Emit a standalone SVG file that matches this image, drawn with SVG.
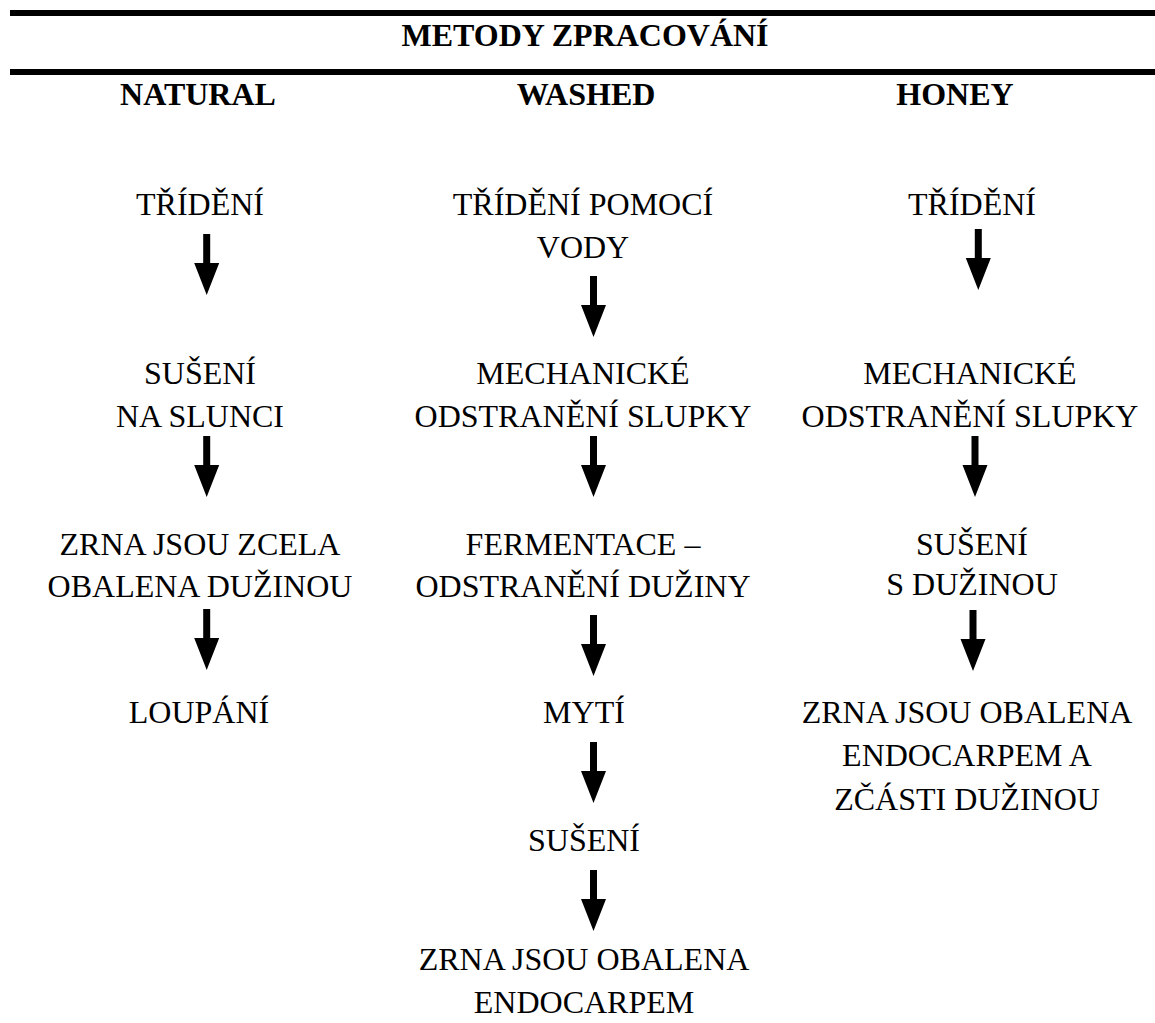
<svg xmlns="http://www.w3.org/2000/svg" xmlns:xlink="http://www.w3.org/1999/xlink" width="1155" height="1023" viewBox="0 0 1155 1023">
<style>
text{font-family:'Liberation Serif','DejaVu Serif',serif;font-size:32px;fill:#000;text-anchor:middle}
.h{font-weight:bold}
.rule{fill:#000}
</style>
<defs>
<path id="arr" d="M-3.5,0 H3.5 V29 H12.5 L0,61 L-12.5,29 H-3.5 Z" fill="#000"/>
</defs>
<rect width="1155" height="1023" fill="#fff"/>
<g id="header">
<rect class="rule" x="10" y="10" width="1145" height="6"/>
<text class="h" x="585" y="46">METODY ZPRACOVÁNÍ</text>
<rect class="rule" x="10" y="69" width="1145" height="6"/>
<text class="h" x="198" y="105">NATURAL</text>
<text class="h" x="586" y="105">WASHED</text>
<text class="h" x="955" y="105">HONEY</text>
</g>
<g id="n1-1"><text x="200" y="215">TŘÍDĚNÍ</text></g>
<g id="n1-2"><text x="200" y="384">SUŠENÍ</text><text x="200" y="427">NA SLUNCI</text></g>
<g id="n1-3"><text x="200" y="555">ZRNA JSOU ZCELA</text><text x="200" y="597">OBALENA DUŽINOU</text></g>
<g id="n1-4"><text x="199" y="723">LOUPÁNÍ</text></g>
<g id="n2-1"><text x="583" y="215">TŘÍDĚNÍ POMOCÍ</text><text x="583" y="258">VODY</text></g>
<g id="n2-2"><text x="583" y="384">MECHANICKÉ</text><text x="583" y="427">ODSTRANĚNÍ SLUPKY</text></g>
<g id="n2-3"><text x="583" y="555">FERMENTACE –</text><text x="583" y="597">ODSTRANĚNÍ DUŽINY</text></g>
<g id="n2-4"><text x="584" y="723">MYTÍ</text></g>
<g id="n2-5"><text x="584" y="851">SUŠENÍ</text></g>
<g id="n2-6"><text x="584" y="970">ZRNA JSOU OBALENA</text><text x="584" y="1013">ENDOCARPEM</text></g>
<g id="n3-1"><text x="972" y="215">TŘÍDĚNÍ</text></g>
<g id="n3-2"><text x="970" y="384">MECHANICKÉ</text><text x="970" y="427">ODSTRANĚNÍ SLUPKY</text></g>
<g id="n3-3"><text x="972" y="555">SUŠENÍ</text><text x="972" y="595">S DUŽINOU</text></g>
<g id="n3-4"><text x="967" y="723">ZRNA JSOU OBALENA</text><text x="967" y="766">ENDOCARPEM A</text><text x="967" y="810">ZČÁSTI DUŽINOU</text></g>
<g id="connectors">
<use xlink:href="#arr" x="206.7" y="234"/>
<use xlink:href="#arr" x="206.7" y="436"/>
<use xlink:href="#arr" x="206.7" y="609"/>
<use xlink:href="#arr" x="593.5" y="276"/>
<use xlink:href="#arr" x="593.5" y="436"/>
<use xlink:href="#arr" x="593.5" y="615"/>
<use xlink:href="#arr" x="593.5" y="742"/>
<use xlink:href="#arr" x="593.5" y="870"/>
<use xlink:href="#arr" x="978.3" y="229"/>
<use xlink:href="#arr" x="975" y="436"/>
<use xlink:href="#arr" x="973" y="610"/>
</g>
</svg>
